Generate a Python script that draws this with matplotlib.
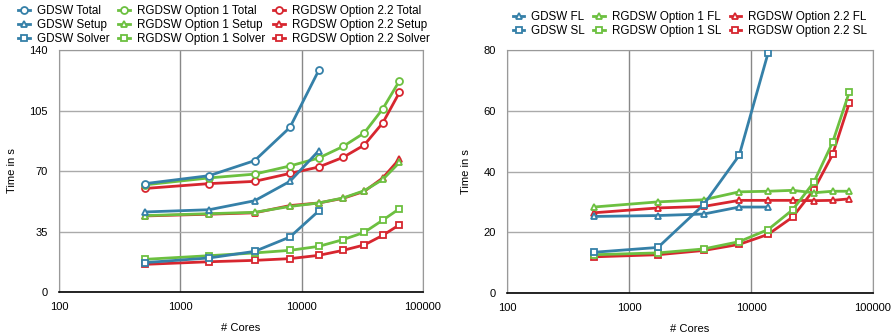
import matplotlib
matplotlib.use('Agg')
import matplotlib.pyplot as plt

plt.rcParams['font.family'] = ['Liberation Sans', 'DejaVu Sans']

cores = [512, 1728, 4096, 8000, 13824, 21952, 32768, 46656, 64000]
cores_gdsw = cores[:5]

# left panel: total / setup / solver times
gdsw_total = [62.7, 67.3, 76.0, 95.2, 128.2]
gdsw_setup = [46.3, 47.6, 52.8, 64.0, 81.7]
gdsw_solver = [17.0, 19.7, 23.5, 31.8, 46.9]

opt1_total = [62.0, 66.0, 68.2, 72.9, 77.5, 84.2, 92.0, 106.0, 122.2]
opt1_setup = [44.2, 45.3, 46.1, 49.5, 51.5, 54.4, 58.6, 65.1, 75.0]
opt1_solver = [18.9, 21.0, 22.6, 24.1, 26.4, 30.3, 34.5, 41.6, 48.2]

opt22_total = [59.9, 62.7, 64.0, 68.6, 72.3, 77.9, 85.0, 97.9, 115.5]
opt22_setup = [44.0, 45.0, 45.8, 50.0, 51.5, 54.2, 58.2, 66.0, 77.0]
opt22_solver = [16.0, 17.5, 18.3, 19.3, 21.2, 24.1, 27.2, 32.8, 38.9]

# right panel: first level / second level
gdsw_fl = [25.2, 25.5, 26.0, 28.3, 28.3]
gdsw_sl = [13.4, 15.0, 29.1, 45.3, 79.1]

opt1_fl = [28.3, 30.0, 30.7, 33.3, 33.5, 33.8, 33.0, 33.5, 33.5]
opt1_sl = [12.6, 13.2, 14.5, 16.9, 20.9, 27.4, 36.5, 49.6, 66.2]

opt22_fl = [26.4, 28.0, 28.5, 30.5, 30.5, 30.5, 30.4, 30.5, 31.0]
opt22_sl = [11.9, 12.6, 14.0, 16.0, 19.3, 25.0, 34.0, 45.6, 62.6]

BLUE = '#3580a8'
GREEN = '#6cc040'
RED = '#d7262f'


def draw(ax, x, y, color, marker, label, z):
    ax.plot(x, y, color=color, marker=marker, markersize=5, markerfacecolor='white',
            markeredgewidth=1.3, linewidth=2, label=label, zorder=z)


def style(ax, ymax, yticks):
    ax.set_xscale('log')
    ax.set_xlim(100, 100000)
    ax.set_ylim(0, ymax)
    ax.set_xticks([100, 1000, 10000, 100000])
    ax.set_xticklabels(['100', '1000', '10000', '100000'])
    ax.minorticks_off()
    ax.set_yticks(yticks)
    ax.tick_params(axis='x', length=0, labelsize=8, pad=7)
    ax.tick_params(axis='y', length=0, labelsize=8, pad=8)
    ax.grid(axis='y', color='#aaaaaa', linewidth=1)
    ax.grid(axis='x', color='#888888', linewidth=1)
    ax.set_axisbelow(True)
    for s in ['left', 'top', 'right']:
        ax.spines[s].set_color('#999999')
    ax.spines['bottom'].set_color('black')
    ax.spines['bottom'].set_linewidth(1.2)
    ax.set_xlabel('# Cores', fontsize=8, labelpad=8)
    ax.set_ylabel('Time in s', fontsize=8, labelpad=9)


fig = plt.figure(figsize=(8.96, 3.36), dpi=100)
ax1 = fig.add_axes([59 / 896, 1 - 292 / 336, 364 / 896, 242 / 336])
ax2 = fig.add_axes([507 / 896, 1 - 293 / 336, 366 / 896, 243 / 336])

draw(ax1, cores_gdsw, gdsw_total, BLUE, 'o', 'GDSW Total', 6)
draw(ax1, cores_gdsw, gdsw_setup, BLUE, '^', 'GDSW Setup', 6)
draw(ax1, cores_gdsw, gdsw_solver, BLUE, 's', 'GDSW Solver', 6)
draw(ax1, cores, opt1_total, GREEN, 'o', 'RGDSW Option 1 Total', 5)
draw(ax1, cores, opt1_setup, GREEN, '^', 'RGDSW Option 1 Setup', 5)
draw(ax1, cores, opt1_solver, GREEN, 's', 'RGDSW Option 1 Solver', 5)
draw(ax1, cores, opt22_total, RED, 'o', 'RGDSW Option 2.2 Total', 4)
draw(ax1, cores, opt22_setup, RED, '^', 'RGDSW Option 2.2 Setup', 4)
draw(ax1, cores, opt22_solver, RED, 's', 'RGDSW Option 2.2 Solver', 4)
style(ax1, 140, [0, 35, 70, 105, 140])

draw(ax2, cores_gdsw, gdsw_fl, BLUE, '^', 'GDSW FL', 6)
draw(ax2, cores_gdsw, gdsw_sl, BLUE, 's', 'GDSW SL', 6)
draw(ax2, cores, opt1_fl, GREEN, '^', 'RGDSW Option 1 FL', 5)
draw(ax2, cores, opt1_sl, GREEN, 's', 'RGDSW Option 1 SL', 5)
draw(ax2, cores, opt22_fl, RED, '^', 'RGDSW Option 2.2 FL', 4)
draw(ax2, cores, opt22_sl, RED, 's', 'RGDSW Option 2.2 SL', 4)
style(ax2, 80, [0, 20, 40, 60, 80])

leg_kw = dict(ncol=3, frameon=False, fontsize=8.4, handlelength=1.0, handletextpad=0.6,
              columnspacing=0.7, labelspacing=0.2, borderaxespad=0)
h, l = ax1.get_legend_handles_labels()
fig.legend(h, l, loc='upper center', bbox_to_anchor=(224 / 896, 1 - 0 / 336), **leg_kw)
h, l = ax2.get_legend_handles_labels()
fig.legend(h, l, loc='upper center', bbox_to_anchor=(690 / 896, 1 - 6 / 336), **leg_kw)

fig.savefig('out.png', dpi=100)
